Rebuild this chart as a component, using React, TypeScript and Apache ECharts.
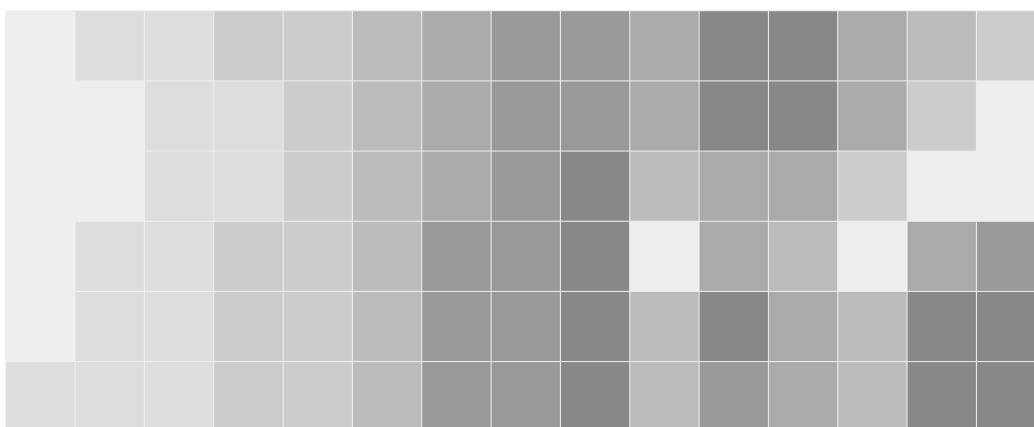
import React, { useEffect, useRef } from "react";
import * as echarts from "echarts";

const columns = ["c1", "c2", "c3", "c4", "c5", "c6", "c7", "c8", "c9", "c10", "c11", "c12", "c13", "c14", "c15"];
const rows = ["r1", "r2", "r3", "r4", "r5", "r6"];

const row1 = [0, 1, 1, 2, 2, 3, 4, 5, 5, 4, 6, 6, 4, 3, 2];
const row2 = [0, 0, 1, 1, 2, 3, 4, 5, 5, 4, 6, 6, 4, 2, 0];
const row3 = [0, 0, 1, 1, 2, 3, 4, 5, 6, 3, 4, 4, 2, 0, 0];
const row4 = [0, 1, 1, 2, 2, 3, 5, 5, 6, 0, 4, 3, 0, 4, 5];
const row5 = [0, 1, 1, 2, 2, 3, 5, 5, 6, 3, 6, 4, 3, 6, 6];
const row6 = [1, 1, 1, 2, 2, 3, 5, 5, 6, 3, 5, 4, 3, 6, 6];

const levelColors = ["#eeeeee", "#dddddd", "#cccccc", "#bbbbbb", "#aaaaaa", "#999999", "#888888"];

export default function App() {
  const ref = useRef<HTMLDivElement>(null);

  useEffect(() => {
    if (!ref.current) return;
    const chart = echarts.init(ref.current, undefined, { renderer: "svg" });
    const allRows = [row1, row2, row3, row4, row5, row6];
    const data: number[][] = [];
    allRows.forEach((r, yi) => {
      r.forEach((v, xi) => data.push([xi, yi, v]));
    });
    chart.setOption({
      animation: false,
      backgroundColor: "#ffffff",
      grid: { left: 6, top: 11, width: 1040, height: 421 },
      xAxis: { type: "category", data: columns, show: false },
      yAxis: { type: "category", data: rows, show: false, inverse: true },
      visualMap: {
        show: false,
        type: "piecewise",
        dimension: 2,
        pieces: levelColors.map((c, i) => ({ value: i, color: c })),
      },
      series: [
        {
          type: "heatmap",
          data,
          itemStyle: { borderColor: "#eeeeee", borderWidth: 1 },
          emphasis: { disabled: true },
        },
      ],
    });
    return () => chart.dispose();
  }, []);

  return (
    <div
      style={{ position: "fixed", left: 0, top: 0, width: 1034, height: 427, overflow: "hidden", background: "#fff" }}
    >
      <div ref={ref} style={{ width: 1060, height: 445 }} />
    </div>
  );
}
